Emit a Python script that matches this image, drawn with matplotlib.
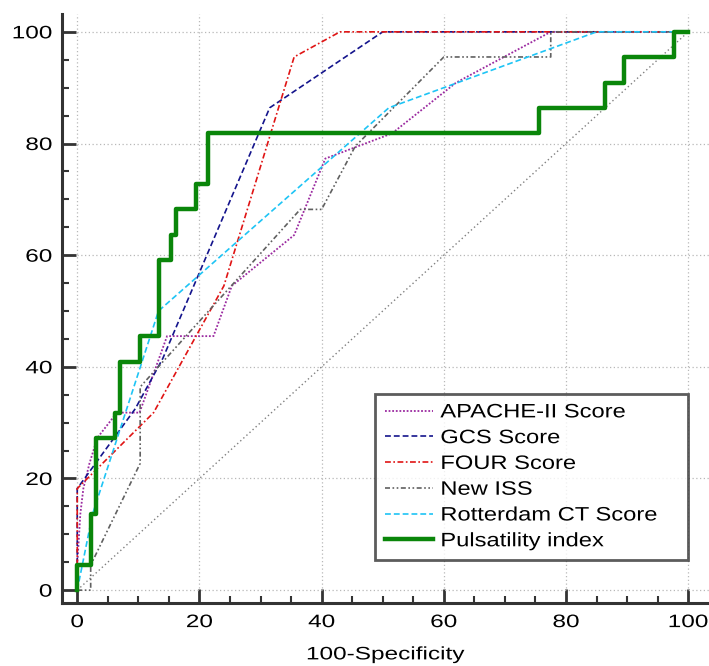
import matplotlib.pyplot as plt
from matplotlib.patheffects import AbstractPathEffect
from matplotlib.transforms import Affine2D

plt.rcParams['font.family'] = ['Liberation Sans', 'DejaVu Sans']

# ROC points: (100-specificity, sensitivity)
apache_x = [0, 0, 0.5, 1, 2, 3.3, 6.5, 10.2, 14.7, 22.3, 25.3, 35.5, 40.6, 51.5, 62, 77.5, 100]
apache_y = [0, 4.5, 13.6, 18.2, 22.7, 27.3, 31.8, 31.8, 45.5, 45.5, 54.5, 63.6, 77.3, 81.8, 90.9, 100, 100]

gcs_x = [0, 0, 9.5, 14, 31.5, 50, 100]
gcs_y = [0, 18.2, 32.5, 41.5, 86.4, 100, 100]

four_x = [0, 0, 12.5, 24, 35.5, 43, 100]
four_y = [0, 18.2, 31.8, 54.5, 95.5, 100, 100]

iss_x = [0, 2.2, 2.2, 10.3, 10.3, 36.5, 40, 45.5, 60, 77.5, 77.5, 100]
iss_y = [0, 0, 4.5, 22.7, 36.4, 68.2, 68.2, 79.5, 95.5, 95.5, 100, 100]

rct_x = [0, 2.5, 13.3, 51, 85, 100]
rct_y = [0, 13.6, 50, 86.4, 100, 100]

pi_x = [0, 0, 2.2, 3.0, 6.2, 7.0, 10.2, 13.4, 15.4, 16.2, 19.4, 21.4, 75.6, 86.4, 89.5, 97.7, 100]
pi_y = [0, 4.5, 13.6, 27.3, 31.8, 40.9, 45.5, 59.1, 63.6, 68.2, 72.7, 81.8, 86.4, 90.9, 95.5, 100, 100]

ticks = [0, 20, 40, 60, 80, 100]


# the original text is a wide Arial, stretch glyphs sideways
class Wide(AbstractPathEffect):
    def __init__(self, sx=1.35, anchor='left'):
        super().__init__()
        self.sx = sx
        self.anchor = anchor

    def draw_path(self, renderer, gc, tpath, affine, rgbFace=None):
        ext = tpath.get_extents()
        if self.anchor == 'center':
            x0 = (ext.x0 + ext.x1) / 2
        elif self.anchor == 'right':
            x0 = ext.x1
        else:
            x0 = 0
        t = Affine2D().translate(-x0, 0).scale(self.sx, 1).translate(x0, 0) + affine
        renderer.draw_path(gc, tpath, t, rgbFace)


fig = plt.figure(figsize=(7.09, 6.66), dpi=100)
ax = fig.add_axes([0.0874, 0.0946, 0.9126, 0.8844])

ax.plot([0, 100], [0, 100], color='#808080', lw=1.0, ls=(0, (1, 2)), zorder=2)

ax.plot(apache_x, apache_y, color='#9b2aa0', lw=1.3, ls=(0, (1, 1)), label='APACHE-II Score', zorder=3)
ax.plot(gcs_x, gcs_y, color='#14148c', lw=1.2, ls=(0, (3.5, 1.8)), label='GCS Score', zorder=3)
ax.plot(four_x, four_y, color='#e01414', lw=1.2, ls=(0, (3.5, 1.5, 1, 1.5)), label='FOUR Score', zorder=3)
ax.plot(iss_x, iss_y, color='#606060', lw=1.2, ls=(0, (3, 1.5, 1, 1.5, 1, 1.5)), label='New ISS', zorder=3)
ax.plot(rct_x, rct_y, color='#1ec4f5', lw=1.2, ls=(0, (3.5, 1.8)), label='Rotterdam CT Score', zorder=3)
ax.plot(pi_x, pi_y, color='#0a860a', lw=3.2, drawstyle='steps-post', label='Pulsatility index', zorder=4)

ax.set_xlim(-2.5, 103.4)
ax.set_ylim(-2.3, 103.2)
ax.set_xticks(ticks)
ax.set_yticks(ticks)
ax.set_xticks(range(0, 101, 5), minor=True)
ax.set_yticks(range(0, 101, 5), minor=True)

ax.grid(True, which='major', color='#b8b8b8', lw=0.9, ls=(0, (1, 2)), zorder=1)

for s in ['top', 'right']:
    ax.spines[s].set_visible(False)
for s in ['left', 'bottom']:
    ax.spines[s].set_color('#333333')
    ax.spines[s].set_linewidth(2.2)

ax.tick_params(which='major', direction='in', length=10, width=2, color='#333333',
               labelsize=13)
ax.tick_params(axis='y', which='major', pad=7)
ax.tick_params(axis='x', which='major', pad=8)
ax.tick_params(which='minor', direction='in', length=5, width=1.5, color='#333333')

xl = ax.set_xlabel('100-Specificity', fontsize=13, labelpad=11)
xl.set_path_effects([Wide(1.35, 'center')])

leg = ax.legend(loc='lower left', bbox_to_anchor=(0.4838, 0.073, 0.4838, 0.2835),
                mode='expand', fontsize=14, frameon=True, fancybox=False,
                handlelength=2.5, labelspacing=0.42, borderpad=0.5,
                handletextpad=0.36, borderaxespad=0)
leg.get_frame().set_edgecolor('#333333')
leg.get_frame().set_linewidth(2.0)
for t in leg.get_texts():
    t.set_path_effects([Wide(1.22, 'left')])

fig.canvas.draw()
for tk in ax.xaxis.get_major_ticks():
    tk.label1.set_path_effects([Wide(1.35, 'center')])
for tk in ax.yaxis.get_major_ticks():
    tk.label1.set_path_effects([Wide(1.35, 'right')])

fig.savefig('out.png', dpi=100)
